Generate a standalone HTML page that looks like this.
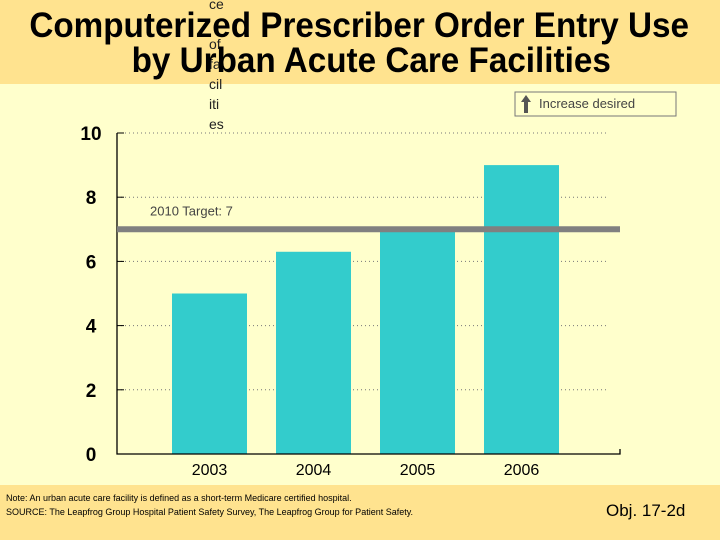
<!DOCTYPE html>
<html><head><meta charset="utf-8">
<style>
html,body{margin:0;padding:0;}
body{width:720px;height:540px;position:relative;overflow:hidden;background:#FFFFCC;font-family:"Liberation Sans",sans-serif;}
.hdr{position:absolute;left:0;top:0;width:720px;height:84px;background:#FFE38F;}
.ftr{position:absolute;left:0;top:485px;width:720px;height:55px;background:#FFE38F;}
.t{position:absolute;width:720px;text-align:center;font-weight:bold;font-size:35px;line-height:40px;color:#000;white-space:nowrap;}
.t span{display:inline-block;transform:scaleX(0.95);}
.stray{position:absolute;left:209px;font-size:14px;color:#222;line-height:20px;}
</style></head><body>
<div class="hdr"></div>
<div class="ftr"></div>
<div class="stray" style="top:-6px">ce<br><br>of<br>fa<br>cil<br>iti<br>es</div>
<div class="t" style="top:6px;left:-1px"><span>Computerized Prescriber Order Entry Use</span></div>
<div class="t" style="top:41px;left:11px"><span>by Urban Acute Care Facilities</span></div>
<svg id="chart" width="720" height="540" style="position:absolute;left:0;top:0"></svg>
<div style="position:absolute;left:6px;top:491px;font-size:9px;line-height:14px;color:#000;">Note: An urban acute care facility is defined as a short-term Medicare certified hospital.<br>SOURCE: The Leapfrog Group Hospital Patient Safety Survey, The Leapfrog Group for Patient Safety.</div>
<div style="position:absolute;left:606px;top:501px;font-size:17px;color:#000;">Obj. 17-2d</div>
<script>
const categories=["2003","2004","2005","2006"];
const values=[5,6.3,7,9];
const yTicks=[0,2,4,6,8,10];
const targetValue=7;
const targetLabel="2010 Target: 7";
const NS="http://www.w3.org/2000/svg";
const svg=document.getElementById('chart');
const x0=117,x1=620,yBase=454,yTop=133,yMax=10;
const y=v=>yBase-(v/yMax)*(yBase-yTop);
const xc=i=>209.5+104*i;
function mk(tag,attrs,text){const e=document.createElementNS(NS,tag);for(const k in attrs)e.setAttribute(k,attrs[k]);if(text!==undefined)e.textContent=text;svg.appendChild(e);return e;}
yTicks.forEach(t=>{
  if(t>0){const g=mk('line',{x1:x0,x2:607,y1:y(t),y2:y(t),stroke:'#777','stroke-width':1,'stroke-dasharray':'1,3'});
  
  }
  const tk=mk('line',{x1:x0,x2:x0+7,y1:y(t),y2:y(t),stroke:'#000','stroke-width':1});
  
  
  const lb=mk('text',{x:91,y:y(t)+7,'text-anchor':'middle','font-size':19,'font-weight':'bold','font-family':'Liberation Sans, sans-serif'},String(t));
  
  
});
categories.forEach((c,i)=>{
  const r=mk('rect',{x:xc(i)-37.5,y:y(values[i]),width:75,height:yBase-y(values[i]),fill:'#33CCCC'});
  
  
  const l=mk('text',{x:xc(i),y:475,'text-anchor':'middle','font-size':16,'font-family':'Liberation Sans, sans-serif'},c);
  
  
});
const ax=mk('path',{d:`M${x0} ${yTop}V${yBase}H${x1}V${yBase-5}`,fill:'none',stroke:'#000','stroke-width':1.3});


const tl=mk('line',{x1:x0,x2:x1,y1:y(targetValue),y2:y(targetValue),stroke:'#808080','stroke-width':6});


const tt=mk('text',{x:150,y:y(targetValue)-14,'font-size':13,fill:'#444','font-family':'Liberation Sans, sans-serif'},targetLabel);


const lg=mk('rect',{x:515,y:92,width:161,height:24,fill:'none',stroke:'#777','stroke-width':1});


const ar=mk('path',{d:'M526 95L531 102H528V113H524V102H521Z',fill:'#555'});


const lt=mk('text',{x:539,y:108,'font-size':13,fill:'#444','font-family':'Liberation Sans, sans-serif'},'Increase desired');


</script>
</body></html>
